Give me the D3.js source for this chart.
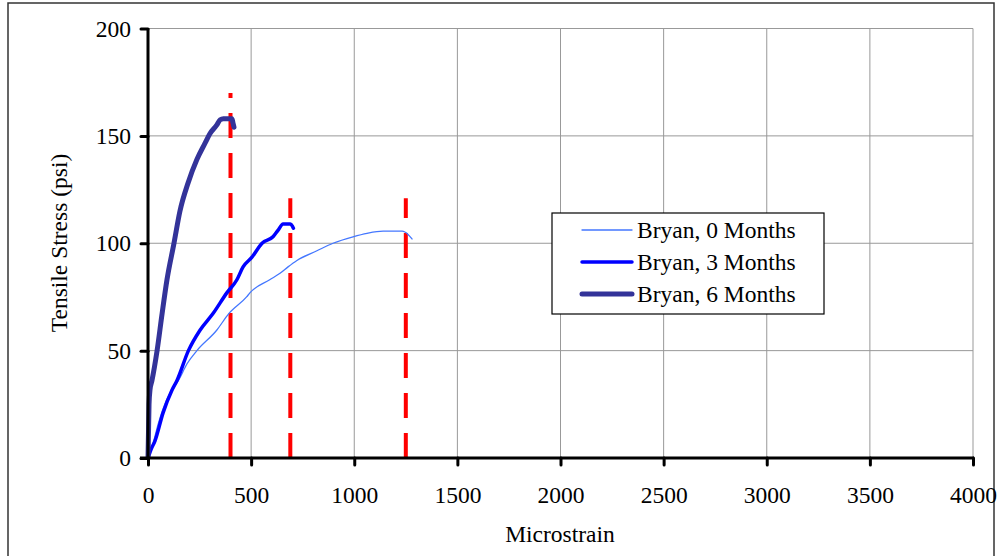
<!DOCTYPE html>
<html>
<head>
<meta charset="utf-8">
<script src="https://cdn.jsdelivr.net/npm/d3@7"></script>
<style>
  body { margin: 0; background: #fff; }
  svg { display: block; font-family: "Liberation Serif", "Times New Roman", serif; }
</style>
</head>
<body>
<div id="vis"></div>
<script>
// strain (microstrain) / stress (psi)
const strain0 = [0, 10, 25, 50, 90, 116, 147, 190, 237, 333, 390, 478, 495, 590, 640, 679, 722, 819, 897, 994, 1062, 1140, 1232, 1262, 1280];
const stress0 = [0, 3, 7, 16, 27, 31.6, 36, 44, 50, 59.5, 67, 75, 77, 83, 86, 89, 92, 96.5, 100, 103, 104.6, 105.6, 105.6, 104, 102];

const strain3 = [0, 15, 34, 73, 116, 140, 196, 252, 317, 383, 431, 461, 504, 553, 606, 630, 655, 690, 700, 705];
const stress3 = [0, 4, 8, 21, 31.6, 36, 50, 59.5, 67.5, 77, 83, 89, 93.5, 100, 103, 106, 109, 109, 108, 107];

const strain6 = [0, 5, 10, 19, 44, 68, 92, 126, 155, 194, 237, 276, 300, 333, 350, 365, 407, 412, 417];
const stress6 = [0, 25, 32, 36, 50, 67, 83, 100, 115, 128, 139, 146.5, 151, 155, 157.5, 158, 158, 156, 154];

const seriesNames = ["Bryan, 0 Months", "Bryan, 3 Months", "Bryan, 6 Months"];
const seriesColors = ["#4477ff", "#0000ff", "#333399"];
const seriesWidths = [1.3, 3.5, 5];

// failure markers (red dashed verticals)
const failStrain = [400, 690, 1250];
const failTop = [170, 121, 121];

const xTicks = [0, 500, 1000, 1500, 2000, 2500, 3000, 3500, 4000];
const yTicks = [0, 50, 100, 150, 200];

const W = 999, H = 556;
const FS = "23.5px";
const x = d3.scaleLinear().domain([0, 4000]).range([148, 973]);
const y = d3.scaleLinear().domain([0, 200]).range([458, 28.5]);

const svg = d3.select("#vis").append("svg")
    .attr("width", W)
    .attr("height", H);

// outer frame
svg.append("rect")
    .attr("x", 8).attr("y", 3)
    .attr("width", 986).attr("height", 560)
    .attr("fill", "none")
    .attr("stroke", "#333")
    .attr("stroke-width", 1.5);

// grid
const grid = svg.append("g")
    .attr("stroke", "#999")
    .attr("stroke-width", 1);

grid.selectAll(".gx")
    .data(xTicks.slice(1))
    .join("line")
    .attr("x1", d => x(d)).attr("x2", d => x(d))
    .attr("y1", y(0)).attr("y2", y(200));

grid.selectAll(".gy")
    .data(yTicks.slice(1))
    .join("line")
    .attr("x1", x(0)).attr("x2", x(4000))
    .attr("y1", d => y(d)).attr("y2", d => y(d));

// red dashed lines, dash pattern starting at the x axis
svg.append("g").selectAll("line")
    .data(failStrain)
    .join("line")
    .attr("x1", d => x(d)).attr("x2", d => x(d))
    .attr("y1", y(0))
    .attr("y2", (d, i) => y(failTop[i]))
    .attr("stroke", "#ff0000")
    .attr("stroke-width", 4)
    .attr("stroke-dasharray", "25,15");

// curves
const line = d3.line()
    .x(d => x(d[0]))
    .y(d => y(d[1]))
    .curve(d3.curveMonotoneX);

const series = [
    d3.zip(strain0, stress0),
    d3.zip(strain3, stress3),
    d3.zip(strain6, stress6)
];

svg.append("g").selectAll("path")
    .data(series)
    .join("path")
    .attr("d", line)
    .attr("fill", "none")
    .attr("stroke", (d, i) => seriesColors[i])
    .attr("stroke-width", (d, i) => seriesWidths[i])
    .attr("stroke-linejoin", "round")
    .attr("stroke-linecap", "round");

// axes
const xAxis = svg.append("g")
    .attr("transform", `translate(0,${y(0)})`)
    .call(d3.axisBottom(x).tickValues(xTicks).tickSize(7).tickPadding(21).tickFormat(d3.format("d")));

const yAxis = svg.append("g")
    .attr("transform", `translate(${x(0)},0)`)
    .call(d3.axisLeft(y).tickValues(yTicks).tickSize(7).tickPadding(10));

[xAxis, yAxis].forEach(g => {
    g.select(".domain")
        .attr("stroke", "#000")
        .attr("stroke-width", 3);
    g.selectAll(".tick line")
        .attr("stroke", "#000")
        .attr("stroke-width", 3)
        .attr("stroke-linecap", "round");
    g.selectAll(".tick text")
        .attr("fill", "#000")
        .style("font-family", "Liberation Serif, serif")
        .style("font-size", FS);
});
xAxis.select(".domain").attr("d", `M${x(0) - 8},0H${x(4000) + 1}`);
yAxis.select(".domain").attr("d", `M0,${y(0) + 1}V${y(200)}`);

// axis titles
svg.append("text")
    .attr("x", 560).attr("y", 542)
    .attr("text-anchor", "middle")
    .style("font-size", FS)
    .text("Microstrain");

svg.append("text")
    .attr("transform", "translate(67,243) rotate(-90)")
    .attr("text-anchor", "middle")
    .style("font-size", FS)
    .text("Tensile Stress (psi)");

// legend
const legend = svg.append("g");
legend.append("rect")
    .attr("x", 552).attr("y", 213)
    .attr("width", 272).attr("height", 101)
    .attr("fill", "#fff")
    .attr("stroke", "#000")
    .attr("stroke-width", 1.2);

const item = legend.selectAll(".item")
    .data(seriesNames)
    .join("g")
    .attr("transform", (d, i) => `translate(0,${230 + i * 32})`);

item.append("line")
    .attr("x1", 582).attr("x2", 632)
    .attr("stroke", (d, i) => seriesColors[i])
    .attr("stroke-width", (d, i) => seriesWidths[i])
    .attr("stroke-linecap", "round");

item.append("text")
    .attr("x", 637).attr("dy", "0.35em")
    .style("font-size", FS)
    .text(d => d);
</script>
</body>
</html>
